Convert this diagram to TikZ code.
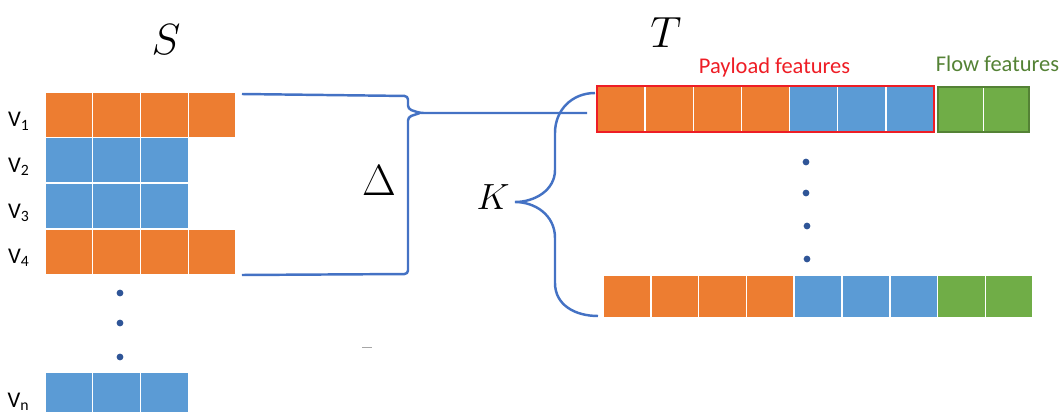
\documentclass[tikz,border=0pt]{standalone}
\usepackage{amsmath}
\usepackage{fontspec}
\usepackage{tikz}
\usetikzlibrary{positioning,calc}
\newfontfamily\featfont{Carlito}
\definecolor{CellOrange}{HTML}{ED7D31}
\definecolor{CellBlue}{HTML}{5B9BD5}
\definecolor{CellGreen}{HTML}{70AD47}
\definecolor{DarkGreen}{HTML}{548235}
\definecolor{BoxRed}{HTML}{EE1D25}
\definecolor{LinkBlue}{HTML}{4472C4}
\definecolor{DotBlue}{HTML}{2F5597}
\tikzset{
  cell/.style={draw=white,line width=0.8pt,inner sep=0pt,outer sep=0pt,
    minimum width=0.955cm,minimum height=0.912cm},
  vlab/.style={anchor=base east,inner sep=0pt,
    font=\featfont\fontsize{12.8}{14}\selectfont},
  featlab/.style={anchor=base,inner sep=0pt,
    font=\featfont\fontsize{12.8}{14}\selectfont},
  mathlab/.style={inner sep=0pt,font=\fontsize{25}{30}\selectfont},
  linkB/.style={line width=1.4pt,draw=LinkBlue},
  redbox/.style={line width=1.6pt,draw=BoxRed},
  greenbox/.style={line width=1.4pt,draw=DarkGreen},
  dotB/.style={circle,fill=DotBlue,inner sep=0pt,minimum size=0.135cm},
}
\begin{document}
\begin{tikzpicture}[x=0.02cm,y=-0.02cm]
  \useasboundingbox (0,0) rectangle (1063,412);
  \clip (0,0) rectangle (1063,412);
  % set S
  \node[mathlab] (sS) at (166,40) {$S$};
  \foreach \r/\y/\n/\c in {1/114.8/4/CellOrange,2/160.4/3/CellBlue,
      3/206/3/CellBlue,4/251.6/4/CellOrange,n/395.3/3/CellBlue}{
    \foreach \i in {1,...,\n}
      \node[cell,fill=\c] (v\r c\i) at ({45+47.75*(\i-0.5)},\y) {};
    \node[vlab] (l\r) at (30,\y+12.2) {V\textsubscript{\r}};
  }
  \node[dotB] (ld1) at (120,293) {};
  \node[dotB] (ld2) at (120,323) {};
  \node[dotB] (ld3) at (120,357) {};
  \draw[gray!70,line width=0.5pt] (362,347) -- (372,347);
  % set T
  \node[mathlab] (sT) at (666,33) {$T$};
  \foreach \i/\c in {1/CellOrange,2/CellOrange,3/CellOrange,4/CellOrange,
      5/CellBlue,6/CellBlue,7/CellBlue}
    \node[cell,fill=\c,minimum width=0.963cm,minimum height=0.92cm]
      (t\i) at ({597+48.14*(\i-0.5)},109) {};
  \node[cell,fill=CellGreen,minimum width=0.91cm,minimum height=0.9cm] (g1) at (960.75,109.5) {};
  \node[cell,fill=CellGreen,minimum width=0.91cm,minimum height=0.9cm] (g2) at (1006.25,109.5) {};
  \draw[redbox] (t1.north west) rectangle (t7.south east);
  \draw[greenbox] (g1.north west) rectangle (g2.south east);
  \node[featlab,text=BoxRed] (pay) at (774.5,74) {Payload features};
  \node[featlab,text=DarkGreen] (flow) at (997.5,72) {Flow features};
  \foreach \i/\c in {1/CellOrange,2/CellOrange,3/CellOrange,4/CellOrange,
      5/CellBlue,6/CellBlue,7/CellBlue,8/CellGreen,9/CellGreen}
    \node[cell,fill=\c,minimum height=0.86cm,minimum width=0.956cm]
      (b\i) at ({603+47.8*(\i-0.5)},296.5) {};
  \node[dotB] (rd1) at (806,162) {};
  \node[dotB] (rd2) at (806,193) {};
  \node[dotB] (rd3) at (807,226) {};
  \node[dotB] (rd4) at (807,259) {};
  % braces
  \coordinate (dtip) at (420,113);
  \coordinate (kin) at (587,113);
  \coordinate (ktop) at (595,93);
  \coordinate (ktip) at (515,202);
  \coordinate (kbot) at (598,316);
  \draw[linkB,rounded corners=2pt] ($(v1c4.north east)+(6,2)$) -- (408,96)
    -- (408,109) -- (dtip) -- (kin);
  \draw[linkB,rounded corners=2pt] ($(v4c4.south east)+(6,0.6)$) -- (408,274)
    -- (408,117) -- (dtip);
  \node[mathlab,font=\fontsize{28}{32}\selectfont] (dl) at (379,181) {$\Delta$};
  \draw[linkB] (ktop) .. controls (572,93) and (555,110) .. (555,133)
    -- (555,170) .. controls (555,190) and (535,202) .. (ktip)
    .. controls (535,202) and (555,215) .. (555,238)
    -- (555,283) .. controls (555,305) and (575,316) .. (kbot);
  \node[mathlab,font=\fontsize{22}{26}\selectfont] (kl) at (493,197) {$K$};
\end{tikzpicture}
\end{document}
